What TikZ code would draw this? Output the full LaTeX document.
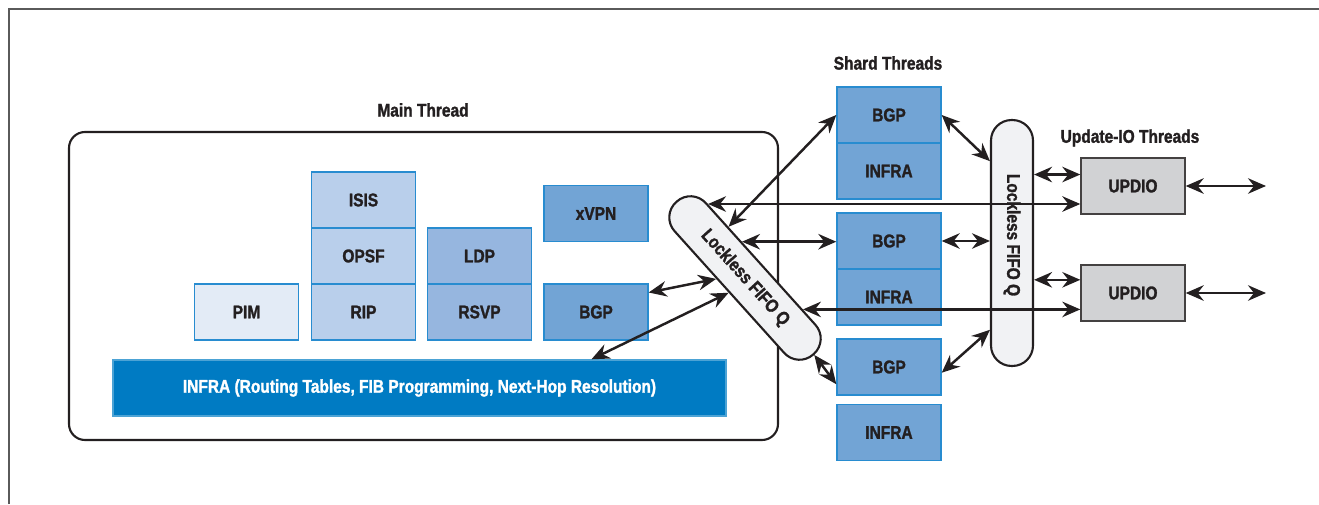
\documentclass[tikz,border=0pt]{standalone}
\usepackage{fontspec}
\setmainfont{Liberation Sans}[FakeStretch=0.84, BoldFeatures={FakeBold=1.5}]
\usepackage{xcolor}
\usetikzlibrary{arrows.meta,calc}

\definecolor{ink}{RGB}{35,31,32}
\definecolor{boxline}{RGB}{40,140,208}
\definecolor{pimfill}{RGB}{227,235,246}
\definecolor{isisfill}{RGB}{185,207,235}
\definecolor{ldpfill}{RGB}{150,182,223}
\definecolor{bgpfill}{RGB}{114,164,213}
\definecolor{infrafill}{RGB}{0,123,195}
\definecolor{updiofill}{RGB}{209,210,212}
\definecolor{fifofill}{RGB}{241,242,244}
\definecolor{framegray}{RGB}{90,90,90}

\newcommand{\lbl}{\bfseries\fontsize{10.5}{12}\selectfont}

\tikzset{
  blk/.style={draw=boxline, line width=0.8pt, minimum width=2.08cm, minimum height=1.12cm, inner sep=0pt, font=\lbl, text=ink},
  updio/.style={draw=ink!85, fill=updiofill, line width=0.8pt, minimum width=2.08cm, minimum height=1.12cm, inner sep=0pt, font=\lbl, text=ink},
  fifo/.style={draw=ink, fill=fifofill, line width=1.2pt, rounded corners=0.41cm, minimum height=0.84cm, inner sep=0pt, font=\lbl, text=ink},
  ttl/.style={font=\lbl, text=ink},
  dbl/.style={{Stealth[length=3.6mm,width=3.1mm,inset=1.2mm]}-{Stealth[length=3.6mm,width=3.1mm,inset=1.2mm]}, line width=1.4pt, draw=ink}
}

\begin{document}
\begin{tikzpicture}[x=0.02cm, y=-0.02cm]
    \useasboundingbox (0,0) rectangle (1319,504);
    \draw[framegray, line width=0.8pt] (9,504) -- (9,9) -- (1319,9);

    \node[ttl] (mainT) at (423,110) {Main Thread};
    \draw[ink, line width=1.2pt, rounded corners=0.32cm] (69,132) rectangle (778,440);

    \node[blk, fill=pimfill] (pim) at (246.5,312) {PIM};
    \node[blk, fill=isisfill] (rip) at (363.5,312) {RIP};
    \node[blk, fill=isisfill] (opsf) at (363.5,256) {OPSF};
    \node[blk, fill=isisfill] (isis) at (363.5,200) {ISIS};
    \node[blk, fill=ldpfill] (rsvp) at (479.5,312) {RSVP};
    \node[blk, fill=ldpfill] (ldp) at (479.5,256) {LDP};
    \node[blk, fill=bgpfill] (xvpn) at (596,213.5) {xVPN};
    \node[blk, fill=bgpfill] (mBGP) at (596,312) {BGP};
    \node[blk, draw=infrafill!70!white, fill=infrafill, text=white, minimum width=12.26cm] (infra) at (419.5,388)
        {INFRA (Routing Tables, FIB Programming, Next-Hop Resolution)};

    \node[ttl] (shardT) at (888,63) {Shard Threads};
    \node[blk, fill=bgpfill] (sBGPa) at (889,115) {BGP};
    \node[blk, fill=bgpfill] (sINFa) at (889,171) {INFRA};
    \node[blk, fill=bgpfill] (sBGPb) at (889,241) {BGP};
    \node[blk, fill=bgpfill] (sINFb) at (889,297) {INFRA};
    \node[blk, fill=bgpfill] (sBGPc) at (889,367) {BGP};
    \node[blk, fill=bgpfill] (sINFc) at (889,432.5) {INFRA};

    \node[ttl] (updT) at (1130,138) {Update-IO Threads};
    \node[updio] (updioA) at (1133,186) {UPDIO};
    \node[updio] (updioB) at (1133,293) {UPDIO};

    \node[fifo, rotate=-48, minimum width=4.1cm] (fifoA) at (745,278) {Lockless FIFO Q\hspace{0.36cm}};
    \node[fifo, minimum width=0.84cm, minimum height=4.92cm] (fifoB) at (1012,243) {\rotatebox{-90}{Lockless FIFO Q\hspace{0.32cm}}};

    \coordinate (qa) at ($(fifoA.north west)!0.115!(fifoA.north east)$);
    \coordinate (qb) at ($(fifoA.north west)!0.36!(fifoA.north east)$);
    \coordinate (qc) at ($(fifoA.north west)!0.80!(fifoA.north east)$);
    \coordinate (qd) at ($(fifoA.north west)!0.263!(fifoA.north east)$);
    \coordinate (ua) at ($(updioA.north west)!0.3!(updioA.south west)$);
    \coordinate (ub) at ($(updioB.north west)!0.27!(updioB.south west)$);
    \coordinate (outA) at (1266,186);
    \coordinate (outB) at (1266,293);

    \draw[dbl] ($(mBGP.north east)!0.16!(mBGP.south east)$) -- ($(fifoA.south west)!0.41!(fifoA.south east)$);
    \draw[dbl] ($(infra.north west)!0.78!(infra.north east)$) -- (fifoA.south);
    \draw[dbl] (qd) -- (sBGPa.west);
    \draw[dbl] (qa) -- (qa -| updioA.west);
    \draw[dbl] (qb) -- (qb -| sBGPb.west);
    \draw[dbl] (qc) -- (qc -| updioB.west);
    \draw[dbl] (fifoA.east) -- ($(sBGPc.north west)!0.8!(sBGPc.south west)$);

    \draw[dbl] (sBGPa.east) -- ($(fifoB.north west)!0.17!(fifoB.south west)$);
    \draw[dbl] (sBGPb.east) -- (sBGPb.east -| fifoB.west);
    \draw[dbl] ($(sBGPc.north east)!0.6!(sBGPc.south east)$) -- ($(fifoB.north west)!0.85!(fifoB.south west)$);
    \draw[dbl] (ua -| fifoB.east) -- (ua);
    \draw[dbl] (ub -| fifoB.east) -- (ub);
    \draw[dbl] (updioA.east) -- (outA);
    \draw[dbl] (updioB.east) -- (outB);
\end{tikzpicture}
\end{document}
